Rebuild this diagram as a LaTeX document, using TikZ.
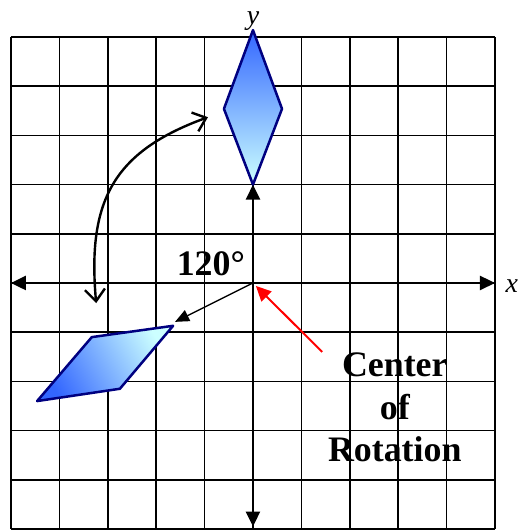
\documentclass[tikz,border=0pt]{standalone}
\usepackage{fontspec}
\setmainfont{Liberation Serif}
\usetikzlibrary{arrows.meta}
\definecolor{navy}{HTML}{000080}
\definecolor{azul}{HTML}{3366FF}
\definecolor{cielo}{HTML}{CCFFFF}
\begin{document}
\begin{tikzpicture}[x=48.4bp, y=49.2bp, >={Triangle[length=15bp,width=14bp]},
      ax/.style={line width=2.5bp},
      fig/.style={draw=navy, line width=2.5bp, line join=round, top color=azul, bottom color=cielo},
      lbl/.style={font=\fontsize{36}{42.5}\selectfont\bfseries, inner sep=0pt},
      axlbl/.style={font=\fontsize{28}{30}\selectfont\itshape, inner sep=0pt, anchor=base}]
    \useasboundingbox (-5.227,-5.041) rectangle (5.744,5.752);
    \draw[line width=1.7bp, xstep=48.4bp, ystep=49.2bp] (-5,-5) grid (5,5);
    % axes
    \coordinate (O) at (0,0);
    \coordinate (xl) at (-5,0);
    \coordinate (xr) at (5,0);
    \coordinate (yt) at (0,2);
    \coordinate (yb) at (0,-4.95);
    \draw[ax, <->] (xl) -- (xr);
    \draw[ax, <->] (yt) -- (yb);
    \node[axlbl] (xlab) at (5.35,-0.2) {x};
    \node[axlbl] (ylab) at (0,5.26) {y};
    % original figure
    \coordinate (d1) at (0,2);
    \coordinate (d2) at (0.6,3.54);
    \coordinate (d3) at (0,5.14);
    \coordinate (d4) at (-0.6,3.54);
    \draw[fig] (d1) -- (d2) -- (d3) -- (d4) -- cycle;
    % rotated figure
    \coordinate (p1) at (-1.65,-0.87);
    \coordinate (p2) at (-3.33,-1.10);
    \coordinate (p3) at (-4.46,-2.40);
    \coordinate (p4) at (-2.75,-2.15);
    \draw[fig, shading angle=120] (p1) -- (p2) -- (p3) -- (p4) -- cycle;
    \coordinate (tip) at (-1.61,-0.79);
    \draw[->, line width=1.3bp, >={Triangle[length=14bp,width=12bp]}] (O) -- (tip);
    % turning arrow
    \coordinate (arcA) at (-0.93,3.37);
    \coordinate (arcB) at (-3.24,-0.41);
    \draw[line width=2.4bp, {Straight Barb[length=12bp,width=20bp]}-{Straight Barb[length=12bp,width=20bp]}]
      (arcB) to[out=95, in=200, looseness=1.2] (arcA);
    \node[lbl, anchor=base] (ang) at (-0.87,0.16) {120°};
    % center label
    \node[lbl, align=center, anchor=north] (cor) at (2.93,-1.42) {Center\\of\\Rotation};
    \coordinate (rtail) at (1.43,-1.40);
    \coordinate (rtip) at (0.06,-0.06);
    \draw[->, red, line width=2bp, >={Triangle[length=15bp,width=14bp]}] (rtail) -- (rtip);
  \end{tikzpicture}
\end{document}
